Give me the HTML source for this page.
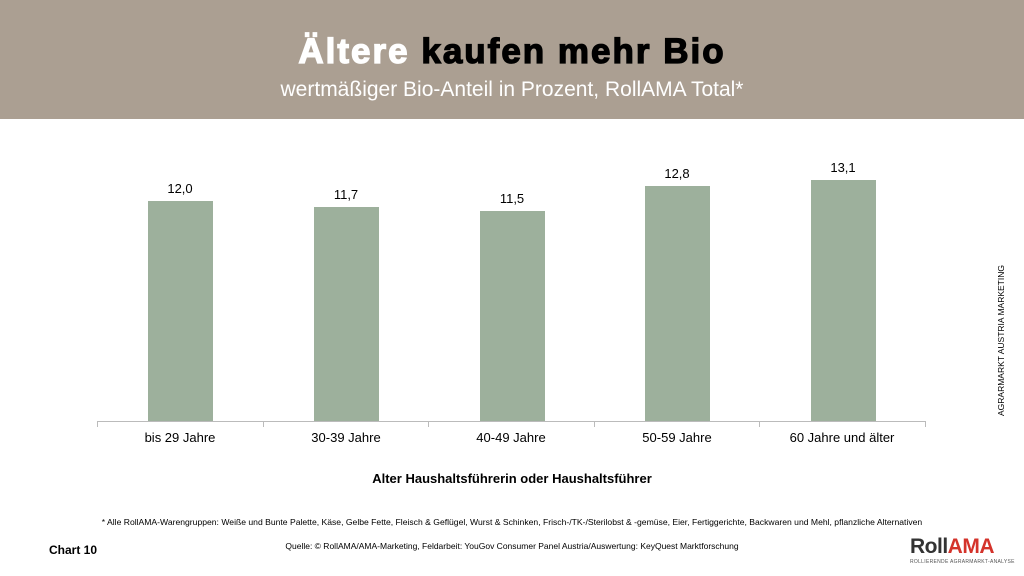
<!DOCTYPE html><html><head><meta charset="utf-8"><style>
body{margin:0;width:1024px;height:576px;position:relative;background:#fff;font-family:"Liberation Sans",sans-serif;overflow:hidden}
.hd{position:absolute;left:0;top:0;width:1024px;height:119px;background:#ab9f92}
.t{position:absolute;width:1024px;text-align:center}
.bar{position:absolute;width:65px;background:#9db09c}
.v{position:absolute;width:80px;text-align:center;font-size:13px;color:#000}
.c{position:absolute;width:166px;text-align:center;font-size:13px;top:430px}
.tk{position:absolute;top:421px;width:1px;height:6px;background:#bbb}
</style></head><body>
<div class="hd"></div>
<div class="t" style="top:32px;font-size:35px;font-weight:bold;letter-spacing:2px;-webkit-text-stroke:1.3px currentColor"><span style="color:#fff">Ältere</span> kaufen mehr Bio</div>
<div class="t" style="top:78px;font-size:21px;color:#fff">wertmäßiger Bio-Anteil in Prozent, RollAMA Total*</div>
<div style="position:absolute;left:97px;top:421px;width:828px;height:1px;background:#bbb"></div>
<div class="tk" style="left:97px"></div><div class="tk" style="left:263px"></div><div class="tk" style="left:428px"></div><div class="tk" style="left:594px"></div><div class="tk" style="left:759px"></div><div class="tk" style="left:925px"></div>
<div class="bar" style="left:148px;top:201px;height:220px"></div>
<div class="bar" style="left:314px;top:207px;height:214px"></div>
<div class="bar" style="left:480px;top:211px;height:210px"></div>
<div class="bar" style="left:645px;top:186px;height:235px"></div>
<div class="bar" style="left:811px;top:180px;height:241px"></div>
<div class="v" style="left:140px;top:181px">12,0</div>
<div class="v" style="left:306px;top:187px">11,7</div>
<div class="v" style="left:472px;top:191px">11,5</div>
<div class="v" style="left:637px;top:166px">12,8</div>
<div class="v" style="left:803px;top:160px">13,1</div>
<div class="c" style="left:97px">bis 29 Jahre</div>
<div class="c" style="left:263px">30-39 Jahre</div>
<div class="c" style="left:428px">40-49 Jahre</div>
<div class="c" style="left:594px">50-59 Jahre</div>
<div class="c" style="left:759px">60 Jahre und älter</div>
<div class="t" style="top:471px;font-size:13px;font-weight:bold;left:0">Alter Haushaltsführerin oder Haushaltsführer</div>
<div class="t" style="top:517px;font-size:8.6px">* Alle RollAMA-Warengruppen: Weiße und Bunte Palette, Käse, Gelbe Fette, Fleisch &amp; Geflügel, Wurst &amp; Schinken, Frisch-/TK-/Sterilobst &amp; -gemüse, Eier, Fertiggerichte, Backwaren und Mehl, pflanzliche Alternativen</div>
<div class="t" style="top:541px;font-size:8.5px">Quelle: © RollAMA/AMA-Marketing, Feldarbeit: YouGov Consumer Panel Austria/Auswertung: KeyQuest Marktforschung</div>
<div style="position:absolute;left:49px;top:543px;font-size:12px;font-weight:bold">Chart 10</div>
<div style="position:absolute;left:910px;top:535px;font-size:21px;font-weight:bold;letter-spacing:-0.5px"><span style="color:#333">Roll</span><span style="color:#d4332b">AMA</span></div>
<div style="position:absolute;left:910px;top:559px;font-size:5px;color:#555;letter-spacing:0.3px">ROLLIERENDE AGRARMARKT-ANALYSE</div>
<div style="position:absolute;left:996px;top:416px;transform-origin:0 0;transform:rotate(-90deg);font-size:8.5px;white-space:nowrap">AGRARMARKT AUSTRIA MARKETING</div>
</body></html>
